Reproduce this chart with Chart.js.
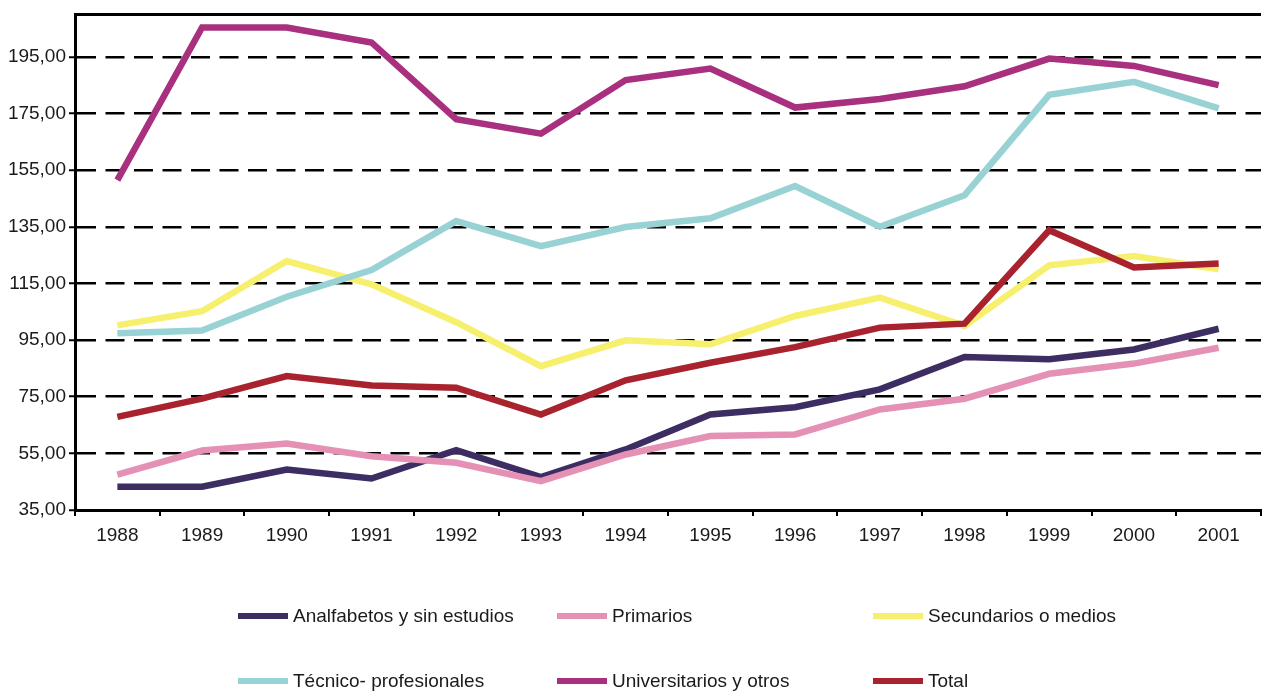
<!DOCTYPE html>
<html><head><meta charset="utf-8">
<script src="https://cdn.jsdelivr.net/npm/chart.js@4.4.0/dist/chart.umd.min.js"></script>
<style>
html,body{margin:0;padding:0;background:#fff;}
#wrap{position:relative;width:1263px;height:693px;overflow:hidden;}
#c{position:absolute;left:0;top:0;}
.leg{position:absolute;display:flex;align-items:center;font:19px "Liberation Sans",Arial,sans-serif;color:#1a1a1a;white-space:nowrap;height:24px;}
.sw{width:50px;height:6px;margin-right:5px;}
</style></head><body>
<div id="wrap"><canvas id="c" width="1263" height="693"></canvas><div id="legend"></div></div>
<script>
const years = ['1988','1989','1990','1991','1992','1993','1994','1995','1996','1997','1998','1999','2000','2001'];
const analfabetos   = [43.2, 43.2, 49.3, 46.1, 56.1, 46.6, 56.4, 68.7, 71.3, 77.6, 89.0, 88.2, 91.7, 99.0];
const primarios     = [47.5, 56.0, 58.5, 54.0, 51.7, 45.2, 54.6, 61.1, 61.7, 70.5, 74.3, 83.1, 86.7, 92.3];
const secundarios   = [100.2, 105.2, 122.9, 114.7, 101.3, 85.8, 94.9, 93.5, 103.5, 110.0, 100.0, 121.4, 124.7, 120.0];
const tecnico       = [97.4, 98.4, 110.3, 119.7, 137.0, 128.2, 134.9, 138.0, 149.4, 135.0, 146.1, 181.6, 186.2, 176.8];
const universitarios= [151.5, 205.4, 205.4, 200.1, 173.0, 167.9, 186.8, 190.9, 177.1, 180.1, 184.6, 194.4, 191.8, 185.0];
const total         = [67.9, 74.3, 82.3, 79.0, 78.2, 68.7, 80.8, 87.0, 92.5, 99.4, 100.8, 133.8, 120.6, 122.0];
const seriesNames = ['Analfabetos y sin estudios','Primarios','Secundarios o medios','Técnico- profesionales','Universitarios y otros','Total'];
const yTicks = [35, 55, 75, 95, 115, 135, 155, 175, 195];
const yMin = 35, yMax = 210;

const colors = ['#3d2d62','#e590b5','#f6f06e','#99d2d4','#a8307f','#a8232e'];
const seriesData = [analfabetos, primarios, secundarios, tecnico, universitarios, total];

const datasets = seriesData.map((d, i) => ({
  label: seriesNames[i],
  data: d,
  borderColor: colors[i],
  backgroundColor: colors[i],
  borderWidth: 6.5,
  pointRadius: 0,
  pointHoverRadius: 0,
  tension: 0,
  fill: false,
  borderCapStyle: 'butt',
  borderJoinStyle: 'miter',
  order: seriesData.length - i
}));

const fmt = v => v.toFixed(2).replace('.', ',');
const FONT = {family: '"Liberation Sans", Arial, sans-serif', size: 19};

new Chart(document.getElementById('c'), {
  type: 'line',
  data: {labels: years, datasets},
  options: {
    responsive: false,
    animation: false,
    devicePixelRatio: 1,
    layout: {padding: {left: 0, right: 2, top: 14, bottom: 0}},
    plugins: {legend: {display: false}, tooltip: {enabled: false}},
    scales: {
      x: {
        offset: true,
        grid: {offset: true, drawOnChartArea: false, drawTicks: true, tickLength: 6, color: '#000', lineWidth: 2},
        border: {display: true, color: '#000', width: 3},
        ticks: {color: '#1a1a1a', font: FONT, padding: 8, maxRotation: 0, autoSkip: false},
        afterFit: s => { s.height = 183; }
      },
      y: {
        min: yMin, max: yMax,
        afterBuildTicks: s => { s.ticks = yTicks.concat([yMax]).map(v => ({value: v})); },
        grid: {
          color: '#000',
          lineWidth: c => (c.tick && c.tick.value === yMax) ? 3 : 2.5,
          tickLength: 6,
          tickColor: c => (c.tick && c.tick.value === yMax) ? 'rgba(0,0,0,0)' : '#000',
          tickWidth: 2
        },
        border: {display: true, color: '#000', width: 3,
          dash: c => (c.tick && (c.tick.value === yMax || c.tick.value === yMin)) ? [] : [19, 9.5]},
        ticks: {color: '#1a1a1a', font: FONT, padding: 3, callback: v => v === yMax ? '' : fmt(v)},
        afterFit: s => { s.width = 75; }
      }
    }
  }
});

// HTML legend built from the datasets
const legCols = [238, 557, 873];
const legRows = [616, 681];
const legend = document.getElementById('legend');
datasets.forEach((ds, i) => {
  const el = document.createElement('div');
  el.className = 'leg';
  el.style.left = legCols[i % 3] + 'px';
  el.style.top = (legRows[Math.floor(i / 3)] - 12) + 'px';
  const sw = document.createElement('span');
  sw.className = 'sw';
  sw.style.background = ds.borderColor;
  const tx = document.createElement('span');
  tx.textContent = ds.label;
  el.appendChild(sw); el.appendChild(tx);
  legend.appendChild(el);
});
</script>
</body></html>
